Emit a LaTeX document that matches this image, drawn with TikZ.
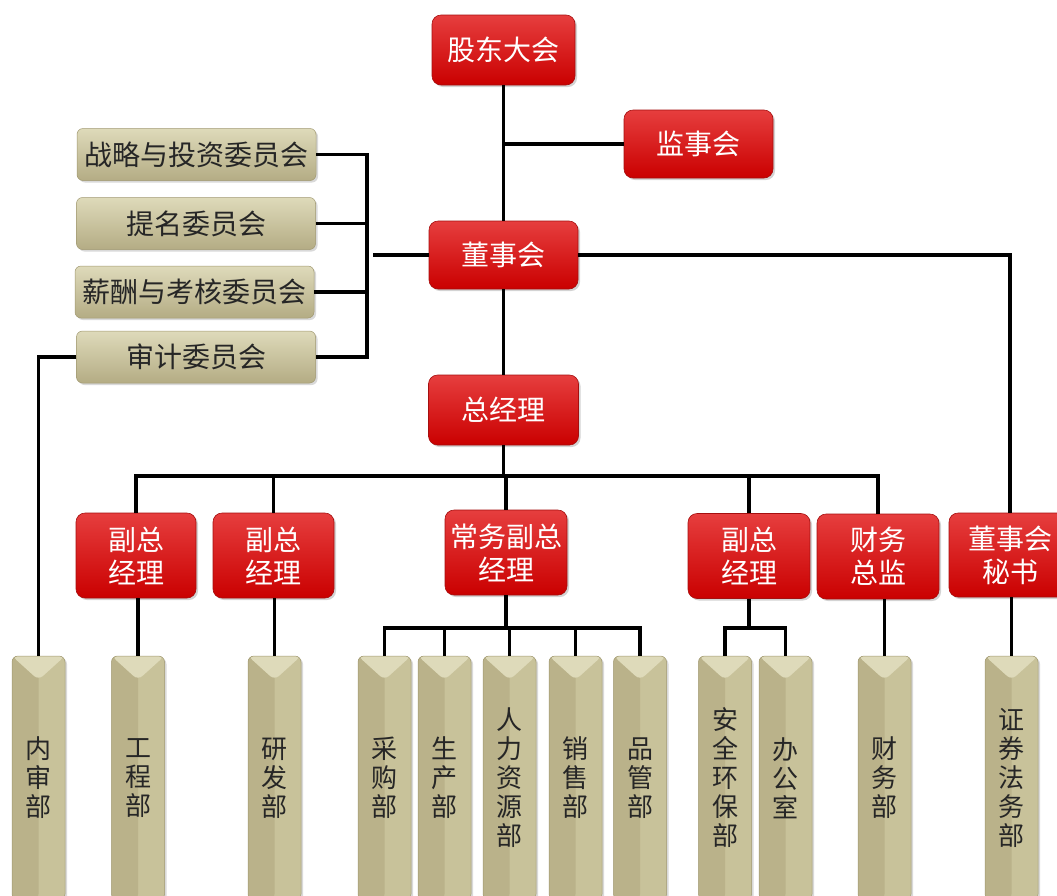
\documentclass[tikz,border=0pt]{standalone}
\usepackage{fontspec}
\newfontfamily\cjk{Noto Sans CJK SC}
\usetikzlibrary{shadows}
\definecolor{rtop}{RGB}{230,62,62}
\definecolor{rbot}{RGB}{202,0,0}
\definecolor{redge}{RGB}{165,15,15}
\definecolor{tanL}{RGB}{186,178,138}
\definecolor{tanR}{RGB}{200,194,154}
\definecolor{tanT}{RGB}{222,218,186}
\definecolor{tanB}{RGB}{180,172,132}
\definecolor{tanE}{RGB}{160,152,112}
\tikzset{
  redbox/.style={rectangle, rounded corners=9pt, inner sep=0pt, align=center,
    top color=rtop, bottom color=rbot, draw=redge, line width=0.6pt,
    text=white, font=\cjk\fontsize{28}{33}\selectfont,
    drop shadow={shadow xshift=2pt, shadow yshift=-2pt, opacity=0.35}},
  combox/.style={rectangle, rounded corners=6pt, inner sep=0pt, align=center,
    top color=tanT, bottom color=tanB, draw=tanE, line width=0.5pt,
    text=black!85, font=\cjk\fontsize{28}{30}\selectfont,
    minimum width=239pt, minimum height=52pt,
    drop shadow={shadow xshift=2pt, shadow yshift=-2pt, opacity=0.3}},
  deptbox/.style={rectangle, rounded corners=6pt, inner sep=0pt, align=center,
    fill=tanR, draw=tanE, line width=0.5pt,
    text=black!85, font=\cjk\fontsize{26}{29}\selectfont,
    minimum width=53pt, minimum height=244pt,
    path picture={
      \fill[tanL] (path picture bounding box.north west) rectangle (path picture bounding box.south);
      \fill[tanT] (path picture bounding box.north west) -- (path picture bounding box.north east)
         -- ([yshift=-24pt]path picture bounding box.north) -- cycle;
    },
    drop shadow={shadow xshift=2pt, shadow yshift=-2pt, opacity=0.3}},
  conn/.style={line width=3.4pt, black}
}
\begin{document}
\begin{tikzpicture}[x=1pt,y=-1pt]
\useasboundingbox (0,0) rectangle (1057,895);
\clip (0,0) rectangle (1057,895);
% red boxes
\node[redbox, minimum width=143pt, minimum height=70pt] (gd) at (503.5,50) {股东大会};
\node[redbox, minimum width=149pt, minimum height=68pt] (js) at (698.5,144) {监事会};
\node[redbox, minimum width=149pt, minimum height=68pt] (dsh) at (503.5,255) {董事会};
\node[redbox, minimum width=150pt, minimum height=70pt] (zjl) at (503.5,410) {总经理};
\node[redbox, minimum width=120pt, minimum height=85pt] (f1) at (136,555.5) {副总\\经理};
\node[redbox, minimum width=121pt, minimum height=85pt] (f2) at (273.5,555.5) {副总\\经理};
\node[redbox, minimum width=122pt, minimum height=85pt] (cw) at (506,552.5) {常务副总\\经理};
\node[redbox, minimum width=122pt, minimum height=85pt] (f4) at (749,556) {副总\\经理};
\node[redbox, minimum width=122pt, minimum height=85pt] (cz) at (878,556.5) {财务\\总监};
\node[redbox, minimum width=122pt, minimum height=84pt] (ms) at (1010,555) {董事会\\秘书};
% committees
\node[combox] (c1) at (196.5,154.5) {战略与投资委员会};
\node[combox] (c2) at (196,223.5) {提名委员会};
\node[combox] (c3) at (194.5,292) {薪酬与考核委员会};
\node[combox] (c4) at (196,357) {审计委员会};
% departments
\node[deptbox] (nsb) at (38.5,778) {内\\审\\部};
\node[deptbox] (gcb) at (138,778) {工\\程\\部};
\node[deptbox] (yfb) at (274.5,778) {研\\发\\部};
\node[deptbox] (cgb) at (384.5,778) {采\\购\\部};
\node[deptbox] (scb) at (444.5,778) {生\\产\\部};
\node[deptbox] (rlb) at (509.5,778) {人\\力\\资\\源\\部};
\node[deptbox] (xsb) at (575.5,778) {销\\售\\部};
\node[deptbox] (pgb) at (640,778) {品\\管\\部};
\node[deptbox] (aqb) at (725,778) {安\\全\\环\\保\\部};
\node[deptbox] (bgs) at (785.5,778) {办\\公\\室};
\node[deptbox] (cwb) at (884.5,778) {财\\务\\部};
\node[deptbox] (zqb) at (1011.5,778) {证\\券\\法\\务\\部};
% connectors
\coordinate (bx) at (367,0);
\coordinate (stub) at (373,255);
\coordinate (bus) at (503.5,476);
\coordinate (b2) at (506,628);
\coordinate (b3) at (749,628);
\draw[conn] (gd.south) -- (dsh.north);
\draw[conn] (js.west) -- (js.west -| gd.south);
\draw[conn] (dsh.south) -- (zjl.north);
\draw[conn] (dsh.east) -| (ms.north);
\draw[conn] (dsh.west) -- (stub);
\draw[conn] (c1.east) -- (c1.east -| bx) -- (c4.east -| bx) -- (c4.east);
\draw[conn] (c2.east) -- (c2.east -| bx);
\draw[conn] (c3.east) -- (c3.east -| bx);
\draw[conn] (c4.west) -| (nsb.north);
\draw[conn] (zjl.south) -- (bus);
\draw[conn] (f1.north) |- (cz.north |- bus) -- (cz.north);
\draw[conn] (f2.north) -- (f2.north |- bus);
\draw[conn] (cw.north) -- (cw.north |- bus);
\draw[conn] (f4.north) -- (f4.north |- bus);
\draw[conn] (gcb.north |- f1.south) -- (gcb.north);
\draw[conn] (yfb.north |- f2.south) -- (yfb.north);
\draw[conn] (cw.south) -- (b2);
\draw[conn] (cgb.north) |- (pgb.north |- b2) -- (pgb.north);
\draw[conn] (scb.north) -- (scb.north |- b2);
\draw[conn] (rlb.north) -- (rlb.north |- b2);
\draw[conn] (xsb.north) -- (xsb.north |- b2);
\draw[conn] (f4.south) -- (b3);
\draw[conn] (aqb.north) |- (bgs.north |- b3) -- (bgs.north);
\draw[conn] (cwb.north |- cz.south) -- (cwb.north);
\draw[conn] (zqb.north |- ms.south) -- (zqb.north);
\end{tikzpicture}
\end{document}
